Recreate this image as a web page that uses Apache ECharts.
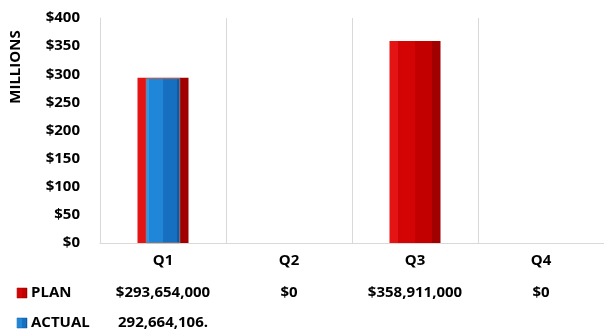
<!DOCTYPE html>
<html>
<head>
<meta charset="utf-8">
<script src="https://cdn.jsdelivr.net/npm/echarts@6/dist/echarts.min.js"></script>
<style>
  html, body { margin: 0; padding: 0; background: #fff; }
  #chart { width: 604px; height: 334px; }
</style>
</head>
<body>
<div id="chart"></div>
<script>
// values in millions
let quarters = ['Q1', 'Q2', 'Q3', 'Q4']
let planValues = [293.654, 0, 358.911, 0]
let actualValues = [292.664106, null, null, null]
let planLabels = ['$293,654,000', '$0', '$358,911,000', '$0']
let actualLabels = ['292,664,106.', '', '', '']
let yTicks = [0, 50, 100, 150, 200, 250, 300, 350, 400]

let font = '"Open Sans", sans-serif'
let fontSize = 15

function stripes (stops) {
  let colorStops = []
  stops.forEach(function (s) {
    colorStops.push({offset: s[0], color: s[2]})
    colorStops.push({offset: s[1], color: s[2]})
  })
  return {type: 'linear', x: 0, y: 0, x2: 1, y2: 0, colorStops: colorStops}
}

let planFill = stripes([[0, 0.16, '#e41414'], [0.16, 0.5, '#d40404'], [0.5, 0.84, '#c20000'], [0.84, 1, '#a00000']])
let actualFill = stripes([[0, 0.1, '#2f98e8'], [0.1, 0.5, '#1f86d8'], [0.5, 0.9, '#176fc2'], [0.9, 1, '#0f5aa6']])

let chart = echarts.init(document.getElementById('chart'))
chart.setOption({
  animation: false,
  textStyle: {fontFamily: font},
  grid: {left: 100, right: -5, top: 18, bottom: 91, containLabel: false},
  xAxis: [
    {
      type: 'category',
      data: quarters,
      axisLine: {lineStyle: {color: '#d9d9d9', width: 1}},
      axisTick: {show: false},
      splitLine: {show: true, lineStyle: {color: '#d9d9d9', width: 1}},
      axisLabel: {color: '#000', fontWeight: 'bold', fontSize: fontSize, fontFamily: font, margin: 10}
    },
    {
      // same categories, only so the ACTUAL bar sits centred in front of PLAN
      type: 'category',
      data: quarters,
      position: 'bottom',
      show: false
    }
  ],
  yAxis: {
    type: 'value',
    min: yTicks[0],
    max: yTicks[yTicks.length - 1],
    interval: yTicks[1] - yTicks[0],
    axisLine: {show: true, lineStyle: {color: '#d9d9d9', width: 1}},
    axisTick: {show: false},
    splitLine: {show: false},
    axisLabel: {
      color: '#000', fontWeight: 'bold', fontSize: fontSize, fontFamily: font, margin: 20,
      formatter: function (v) { return '$' + v }
    }
  },
  series: [
    {
      name: 'PLAN',
      type: 'bar',
      xAxisIndex: 0,
      barWidth: 51,
      data: planValues,
      itemStyle: {color: planFill}
    },
    {
      name: 'ACTUAL',
      type: 'bar',
      xAxisIndex: 1,
      barWidth: 34,
      data: actualValues,
      itemStyle: {color: actualFill, borderColor: '#8a8a8a', borderWidth: 0.5}
    }
  ]
})

// data table under the plot, columns follow the category axis
let cellFont = 'bold ' + fontSize + 'px ' + font
let graphic = [
  {
    type: 'text', x: 16, y: 67, rotation: Math.PI / 2,
    style: {text: 'MILLIONS', fill: '#000', font: cellFont, align: 'center', verticalAlign: 'middle'}
  },
  {
    type: 'rect', shape: {x: 17, y: 288, width: 10, height: 10},
    style: {fill: planFill, stroke: '#900000', lineWidth: 0.5}
  },
  {
    type: 'text', x: 31, y: 293,
    style: {text: 'PLAN', fill: '#000', font: cellFont, align: 'left', verticalAlign: 'middle'}
  },
  {
    type: 'rect', shape: {x: 17, y: 318, width: 10, height: 10},
    style: {fill: actualFill, stroke: '#0f5aa6', lineWidth: 0.5}
  },
  {
    type: 'text', x: 31, y: 323,
    style: {text: 'ACTUAL', fill: '#000', font: cellFont, align: 'left', verticalAlign: 'middle'}
  }
]
quarters.forEach(function (q, i) {
  let cx = chart.convertToPixel({xAxisIndex: 0}, q)
  graphic.push({
    type: 'text', x: cx, y: 293,
    style: {text: planLabels[i], fill: '#000', font: cellFont, align: 'center', verticalAlign: 'middle'}
  })
  if (actualLabels[i]) {
    graphic.push({
      type: 'text', x: cx, y: 323,
      style: {text: actualLabels[i], fill: '#000', font: cellFont, align: 'center', verticalAlign: 'middle'}
    })
  }
})
chart.setOption({graphic: graphic})
</script>
</body>
</html>
